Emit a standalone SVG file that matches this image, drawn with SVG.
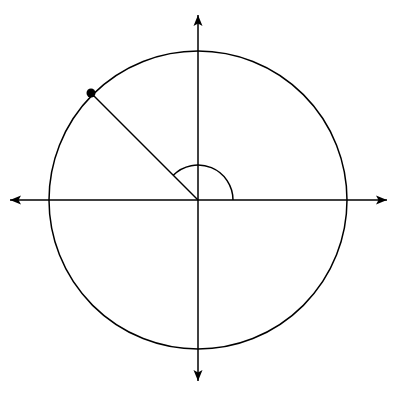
<svg xmlns="http://www.w3.org/2000/svg" width="400" height="400" viewBox="0 0 400 400">
<style>
.ln{fill:none;stroke:#000;stroke-width:1.5}
</style>
<defs>
<marker id="ah" viewBox="0 0 12 10" refX="11" refY="5" markerWidth="12" markerHeight="10" markerUnits="userSpaceOnUse" orient="auto">
<path d="M0,0.5 L11,5 L0,9.5 L2.5,5 Z" fill="#000"/>
</marker>
</defs>
<rect width="400" height="400" fill="#fff"/>
<g id="circle"><circle class="ln" cx="198" cy="200" r="149"/></g>
<g id="connectors">
<line class="ln" x1="198" y1="200" x2="10" y2="200" marker-end="url(#ah)"/>
<line class="ln" x1="198" y1="200" x2="387" y2="200" marker-end="url(#ah)"/>
<line class="ln" x1="198" y1="200" x2="198" y2="15" marker-end="url(#ah)"/>
<line class="ln" x1="198" y1="200" x2="198" y2="381" marker-end="url(#ah)"/>
<line class="ln" x1="198" y1="200" x2="91" y2="93"/>
<path id="angle" class="ln" d="M233,200 A35,35 0 0 0 173.25,175.25"/>
</g>
<g id="point"><circle cx="91" cy="93" r="4.5" fill="#000"/></g>
</svg>
